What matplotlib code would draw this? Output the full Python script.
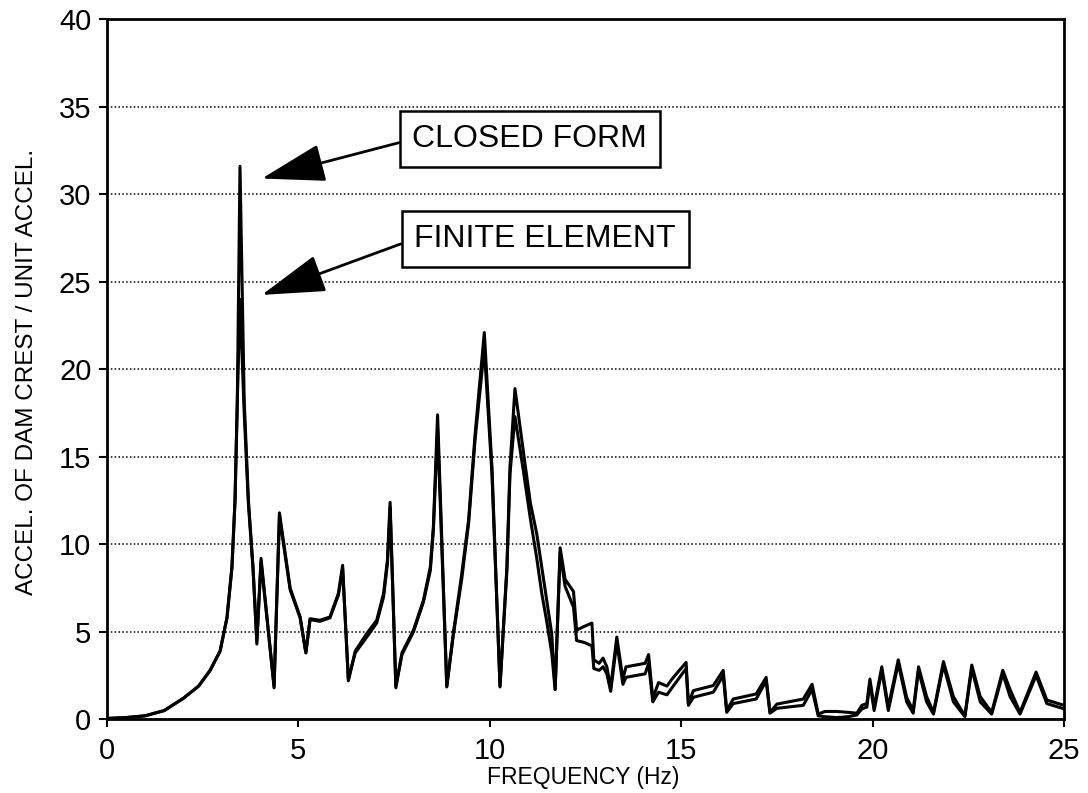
import matplotlib
matplotlib.use("Agg")
import matplotlib.pyplot as plt

# frequency axis (Hz) shared by both response curves
freq = [0.0, 0.5, 1.0, 1.5, 2.0, 2.4, 2.7, 2.96, 3.14, 3.27, 3.35, 3.41, 3.48,
        3.59, 3.70, 3.82, 3.92, 4.03, 4.37, 4.51, 4.79, 5.05, 5.20, 5.31, 5.57,
        5.83, 6.05, 6.16, 6.31, 6.49, 6.79, 7.05, 7.23, 7.33, 7.40, 7.55, 7.71,
        8.01, 8.27, 8.45, 8.53, 8.64, 8.88, 9.05, 9.27, 9.45, 9.62, 9.86, 10.06,
        10.27, 10.45, 10.53, 10.66, 10.88, 11.06, 11.23, 11.36, 11.49, 11.62,
        11.71, 11.84, 11.97, 12.19, 12.27, 12.46, 12.67, 12.72, 12.86, 12.96,
        13.06, 13.16, 13.32, 13.48, 13.56, 14.06, 14.15, 14.26, 14.41, 14.63,
        14.76, 15.13, 15.19, 15.32, 15.84, 16.10, 16.19, 16.36, 16.96, 17.22,
        17.32, 17.50, 18.19, 18.42, 18.58, 18.76, 19.06, 19.36, 19.59, 19.72,
        19.85, 19.93, 20.04, 20.24, 20.41, 20.67, 20.89, 21.06, 21.20, 21.41,
        21.59, 21.85, 22.11, 22.41, 22.59, 22.81, 23.11, 23.40, 23.59, 23.85,
        24.27, 24.55, 25.0]

# crest acceleration ratio, closed form solution
closed_form = [0.05, 0.1, 0.2, 0.5, 1.2, 1.9, 2.8, 3.9, 5.8, 8.7, 12.5, 18.2, 31.6,
               18.2, 12.5, 8.7, 4.3, 9.2, 1.8, 11.8, 7.5, 5.85, 3.8, 5.75, 5.66,
               5.85, 7.2, 8.8, 2.2, 3.9, 4.9, 5.66, 7.2, 9.1, 12.4, 1.8, 3.8,
               5.1, 6.8, 8.7, 11.0, 17.4, 1.85, 4.9, 8.3, 11.4, 16.3, 22.1, 14.4,
               1.85, 8.7, 14.4, 18.9, 15.3, 12.4, 10.6, 8.7, 6.8, 4.9,
               1.7, 9.8, 8.0, 7.3, 5.1, 5.3, 5.5, 3.4, 3.2,
               3.5, 3.0, 1.8, 4.7, 2.3, 3.0, 3.2, 3.7, 1.2, 2.1, 1.9,
               2.3, 3.25, 0.9, 1.64, 1.93, 2.8, 0.5, 1.16, 1.45, 2.4,
               0.4, 0.87, 1.16, 2.0, 0.3, 0.45, 0.45, 0.4, 0.35, 0.8,
               0.9, 2.3, 0.7, 3.0, 0.7, 3.4, 1.25, 0.5, 3.0, 1.3,
               0.4, 3.3, 1.3, 0.2, 3.1, 1.3, 0.4, 2.8, 1.7, 0.4,
               2.7, 1.1, 0.8]

# crest acceleration ratio, finite element model
finite_element = [0.05, 0.1, 0.2, 0.5, 1.2, 1.9, 2.8, 3.9, 5.8, 8.7, 12.5, 18.2, 24.0,
                  17.5, 12.3, 8.6, 4.5, 9.0, 1.9, 11.6, 7.4, 5.8, 3.8, 5.7, 5.6,
                  5.8, 7.1, 8.6, 2.3, 3.8, 4.7, 5.5, 7.0, 8.9, 12.1, 1.9, 3.7,
                  5.0, 6.7, 8.5, 10.8, 16.6, 1.9, 4.8, 8.0, 11.2, 16.0, 21.2, 14.0,
                  1.9, 8.5, 14.0, 17.3, 14.2, 11.5, 9.2, 7.2, 5.6, 3.8,
                  1.7, 9.5, 7.6, 6.4, 4.5, 4.4, 4.2, 2.9, 2.8,
                  3.0, 2.6, 1.6, 4.4, 2.0, 2.4, 2.6, 3.2, 1.0, 1.55, 1.4,
                  1.8, 2.9, 0.8, 1.26, 1.55, 2.5, 0.4, 0.9, 1.16, 2.2,
                  0.35, 0.63, 0.8, 1.7, 0.2, 0.15, 0.1, 0.15, 0.25, 0.6,
                  0.7, 2.1, 0.5, 2.8, 0.5, 3.2, 1.0, 0.35, 2.8, 1.0,
                  0.3, 3.1, 1.0, 0.15, 2.9, 1.0, 0.3, 2.6, 1.3, 0.3,
                  2.5, 0.9, 0.6]

x_ticks = [0, 5, 10, 15, 20, 25]
y_ticks = [0, 5, 10, 15, 20, 25, 30, 35, 40]

plt.rcParams["font.family"] = ["Liberation Sans", "DejaVu Sans"]

fig = plt.figure(figsize=(10.88, 7.93), dpi=100)
ax = fig.add_axes([0.0981, 0.0929, 0.8799, 0.8828])

ax.plot(freq, closed_form, color="black", lw=2.2)
ax.plot(freq, finite_element, color="black", lw=2.2)

ax.set_xlim(0, 25)
ax.set_ylim(0, 40)
ax.set_xticks(x_ticks)
ax.set_yticks(y_ticks)
ax.tick_params(axis="x", direction="out", length=6, width=1.5, labelsize=21, pad=7)
ax.tick_params(axis="y", direction="out", length=6, width=1.5, labelsize=21, pad=5)

# dotted horizontal grid only
ax.yaxis.grid(True, linestyle=(0, (1, 1.5)), color="black", lw=1.1)
ax.xaxis.grid(False)
ax.set_axisbelow(True)
for s in ax.spines.values():
    s.set_linewidth(2)

ax.set_xlabel("FREQUENCY (Hz)", fontsize=16.5)
ax.xaxis.set_label_coords(0.4975, -0.066)
ax.set_ylabel("ACCEL. OF DAM CREST / UNIT ACCEL.", fontsize=17.5)
ax.yaxis.set_label_coords(-0.072, 0.496)

box = dict(boxstyle="square,pad=0.4", fc="white", ec="black", lw=1.8)
arrow = dict(arrowstyle="-|>,head_length=2.0,head_width=0.6", color="black",
             lw=2, mutation_scale=20, shrinkA=0, shrinkB=0, relpos=(0, 0.5))
ax.annotate("CLOSED FORM", xy=(4.05, 30.9), xytext=(11.05, 33.15),
            fontsize=23, ha="center", va="center", bbox=box, arrowprops=arrow)
ax.annotate("FINITE ELEMENT", xy=(4.05, 24.25), xytext=(11.45, 27.45),
            fontsize=23, ha="center", va="center", bbox=box, arrowprops=arrow)

fig.savefig("out.png", dpi=100)
